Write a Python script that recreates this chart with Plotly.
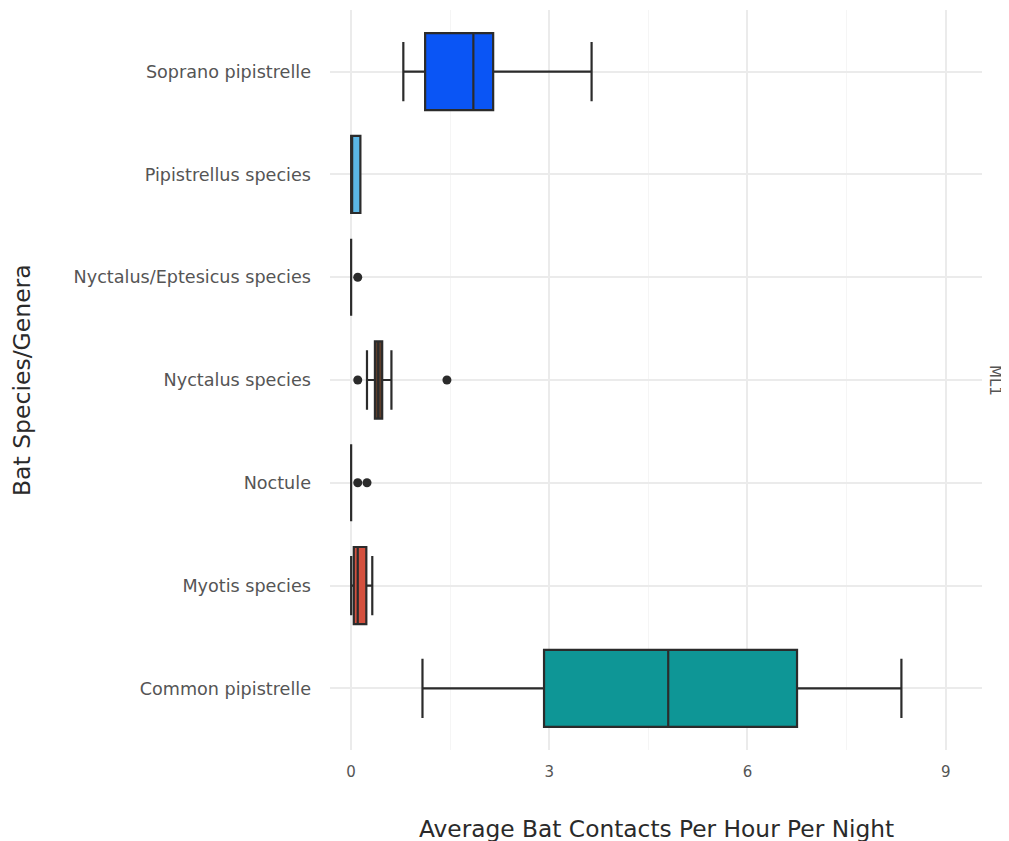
import plotly.graph_objects as go

categories = ["Common pipistrelle", "Myotis species", "Noctule", "Nyctalus species",
              "Nyctalus/Eptesicus species", "Pipistrellus species", "Soprano pipistrelle"]
lower_whisker = [1.08, 0.00, 0.00, 0.24, 0.00, 0.00, 0.79]
q1_vals       = [2.92, 0.04, 0.00, 0.36, 0.00, 0.00, 1.12]
median_vals   = [4.80, 0.10, 0.00, 0.41, 0.00, 0.00, 1.85]
q3_vals       = [6.75, 0.23, 0.00, 0.47, 0.00, 0.14, 2.15]
upper_whisker = [8.33, 0.32, 0.00, 0.61, 0.00, 0.14, 3.64]
fill_colors   = ["#0E9696", "#D4503E", "#3A3A3A", "#5C3D2A", "#3A3A3A", "#5BB7E6", "#0A55F5"]
outlier_cat   = ["Nyctalus/Eptesicus species", "Nyctalus species", "Nyctalus species",
                 "Noctule", "Noctule"]
outlier_vals  = [0.10, 0.10, 1.45, 0.10, 0.24]
x_ticks = [0, 3, 6, 9]

FONT = "DejaVu Sans, Lato, sans-serif"

fig = go.Figure()
for i, c in enumerate(categories):
    fig.add_trace(go.Box(
        y=[c], q1=[q1_vals[i]], median=[median_vals[i]], q3=[q3_vals[i]],
        lowerfence=[lower_whisker[i]], upperfence=[upper_whisker[i]],
        orientation="h", fillcolor=fill_colors[i],
        line=dict(color="#2b2b2b", width=2.2), width=0.75, whiskerwidth=0.77,
        boxpoints=False, showlegend=False, hoverinfo="x+y"))

fig.add_trace(go.Scatter(
    x=outlier_vals, y=outlier_cat, mode="markers",
    marker=dict(color="#2b2b2b", size=9), showlegend=False))

# figure is drawn with an 8px page offset; size it to fit the window
fig.update_layout(
    width=1001, height=833,
    paper_bgcolor="white", plot_bgcolor="white",
    margin=dict(l=322, r=27, t=2, b=91, autoexpand=False),
    font=dict(family=FONT, color="#555555"),
    xaxis=dict(range=[-0.32, 9.55], tickvals=x_ticks, ticktext=[str(v) for v in x_ticks],
               showgrid=True, gridcolor="#EBEBEB", gridwidth=1.5, zeroline=False,
               tickfont=dict(size=15, color="#555555"), ticks="", ticklen=0,
               ticklabelstandoff=11,
               minor=dict(tickvals=[1.5, 4.5, 7.5], showgrid=True, gridcolor="#F5F5F5", gridwidth=1)),
    yaxis=dict(categoryorder="array", categoryarray=categories, range=[-0.6, 6.6],
               showgrid=True, gridcolor="#EBEBEB", gridwidth=1.5, zeroline=False,
               tickfont=dict(size=17.6, color="#555555"), ticks="", ticklen=0,
               ticklabelstandoff=18),
    annotations=[
        dict(text="ML1", x=1.0, xref="paper", xanchor="left", xshift=2,
             y=0.5, yref="paper", textangle=90, showarrow=False,
             font=dict(size=15, color="#555555")),
        dict(text="Average Bat Contacts Per Hour Per Night", x=0.5, xref="paper",
             y=0, yref="paper", yanchor="middle", yshift=-78, showarrow=False,
             font=dict(size=23.3, color="#2a2a2a")),
        dict(text="Bat Species/Genera", x=0, xref="paper", xanchor="center", xshift=-308,
             y=0.5, yref="paper", textangle=-90, showarrow=False,
             font=dict(size=23.5, color="#2a2a2a")),
    ],
)
fig.write_html("out.html")
